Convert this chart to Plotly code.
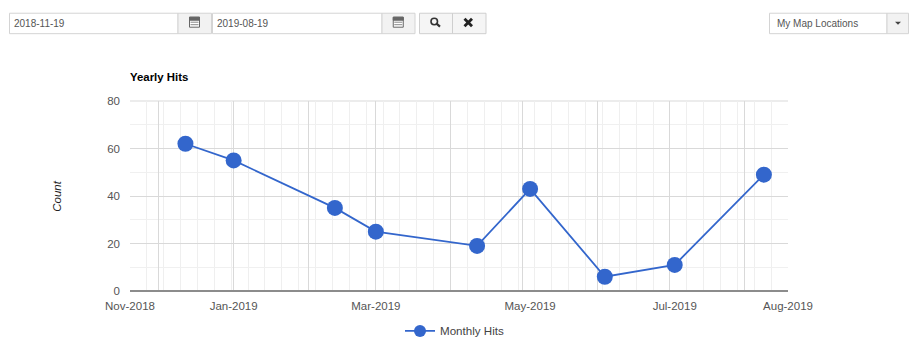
import plotly.graph_objects as go

# ---- data ----
hit_dates = ["2018-12-12", "2019-01-01", "2019-02-12", "2019-03-01", "2019-04-12",
             "2019-05-04", "2019-06-04", "2019-07-03", "2019-08-09"]
hit_counts = [62, 55, 35, 25, 19, 43, 6, 11, 49]
series_name = "Monthly Hits"
x_range = ["2018-11-19", "2019-08-19"]
month_starts = ["2018-12-01", "2019-01-01", "2019-02-01", "2019-03-01", "2019-04-01",
                "2019-05-01", "2019-06-01", "2019-07-01", "2019-08-01"]
label_dates = ["2018-11-19", "2019-01-01", "2019-03-01", "2019-05-04", "2019-07-03", "2019-08-19"]
label_texts = ["Nov-2018", "Jan-2019", "Mar-2019", "May-2019", "Jul-2019", "Aug-2019"]
y_ticks = [0, 20, 40, 60, 80]
title_text = "Yearly Hits"
y_title = "Count"
date_from = "2018-11-19"
date_to = "2019-08-19"
dropdown_text = "My Map Locations"

W, H = 920, 353
L, R, T, B = 130, 788, 101, 291.5
FONT = "Liberation Sans, Arial, sans-serif"
BLUE = "#3366CC"

def px(x): return (x - L) / (R - L)
def py(y): return (B - y) / (B - T)

shapes, notes = [], []

def box(x0, y0, x1, y1, fill="#ffffff", line="#d4d4d4", width=1):
    shapes.append(dict(type="rect", xref="paper", yref="paper", layer="above",
                       x0=px(x0), x1=px(x1), y0=py(y0), y1=py(y1), fillcolor=fill,
                       line=dict(color=line, width=width)))

def seg(x0, y0, x1, y1, color="#333333", width=2, layer="above"):
    shapes.append(dict(type="line", xref="paper", yref="paper", layer=layer,
                       x0=px(x0), x1=px(x1), y0=py(y0), y1=py(y1),
                       line=dict(color=color, width=width)))

def text(x, y, s, size=10, color="#555555", anchor="left", **kw):
    notes.append(dict(xref="paper", yref="paper", x=px(x), y=py(y), text=s, showarrow=False,
                      xanchor=anchor, yanchor="middle", font=dict(family=FONT, size=size, color=color),
                      borderpad=0, **kw))

def calendar(cx, cy):
    box(cx - 5, cy - 5, cx + 5, cy + 5, fill="#ffffff", line="#666666", width=1)
    box(cx - 5, cy - 5, cx + 5, cy - 2, fill="#666666", line="#666666", width=1)
    for dy in (0, 2.5):
        seg(cx - 4, cy + dy, cx + 4, cy + dy, color="#888888", width=1)

# date inputs
for x0, x1, x2, label in ((9, 178, 212, date_from), (212, 382, 415.5, date_to)):
    box(x0 + .5, 13, x1, 33.5)
    box(x1, 13, x2 - .5, 33.5, fill="#f2f2f2")
    text(x0 + 4, 23, label)
    calendar((x1 + x2) / 2 - .5, 22)

# buttons
box(419.5, 13, 452.5, 33.5, fill="#f5f5f5", line="#cfcfcf")
box(452.5, 13, 486, 33.5, fill="#f5f5f5", line="#cfcfcf")
shapes.append(dict(type="circle", xref="paper", yref="paper", layer="above",
                   x0=px(431), x1=px(437.5), y0=py(18), y1=py(24.5),
                   line=dict(color="#333333", width=1.6), fillcolor="rgba(0,0,0,0)"))
seg(436.5, 23.5, 440, 26.5, width=2.2)
seg(464.5, 18.5, 472, 26, color="#222222", width=2.8)
seg(472, 18.5, 464.5, 26, color="#222222", width=2.8)

# dropdown
box(769.5, 13, 887, 33.5)
box(887, 13, 908.5, 33.5, fill="#f2f2f2")
text(776, 23, dropdown_text)
shapes.append(dict(type="path", xref="paper", yref="paper", layer="above",
                   path=f"M {px(895)} {py(21.5)} L {px(901)} {py(21.5)} L {px(898)} {py(24.5)} Z",
                   fillcolor="#444444", line=dict(width=0)))

# top edge of the plot area (the 80 gridline)
seg(L, T, R, T, color="#d9d9d9", width=1, layer="below")

# chart title and axis title
text(L - 1, 76.5, f"<b>{title_text}</b>", size=11.4, color="#000000")
text(57, 197, f"<i>{y_title}</i>", size=11.5, color="#222222", anchor="center", textangle=-90)

fig = go.Figure()
fig.add_trace(go.Scatter(x=hit_dates, y=hit_counts, name=series_name, mode="lines+markers",
                         line=dict(color=BLUE, width=1.8),
                         marker=dict(color=BLUE, size=16, line=dict(width=0)),
                         xaxis="x", yaxis="y", cliponaxis=False, showlegend=False))
# legend-only entry with the smaller legend marker
fig.add_trace(go.Scatter(x=[None], y=[None], name=series_name, mode="lines+markers",
                         line=dict(color=BLUE, width=1.8),
                         marker=dict(color=BLUE, size=12, line=dict(width=0)),
                         xaxis="x", yaxis="y", showlegend=True))
# invisible trace that carries the label axis
fig.add_trace(go.Scatter(x=x_range, y=[0, 0], mode="markers", marker=dict(opacity=0),
                         xaxis="x2", yaxis="y", showlegend=False, hoverinfo="skip"))

fig.update_layout(
    width=W, height=H, autosize=False,
    margin=dict(l=L, r=W - R, t=T, b=H - B, pad=0, autoexpand=False),
    paper_bgcolor="#ffffff", plot_bgcolor="#ffffff",
    font=dict(family=FONT, size=11.5, color="#444444"),
    shapes=shapes, annotations=notes,
    showlegend=True,
    legend=dict(orientation="h", xref="paper", yref="paper",
                x=px(400), y=py(317), xanchor="left", yanchor="top",
                font=dict(family=FONT, size=11.6, color="#444444"),
                itemwidth=30, bgcolor="rgba(0,0,0,0)"),
    xaxis=dict(type="date", range=x_range, tickmode="array", tickvals=month_starts,
               showticklabels=False, ticks="", showgrid=True, gridcolor="#d9d9d9", gridwidth=1,
               zeroline=False, showline=False,
               minor=dict(showgrid=True, gridcolor="#efefef", gridwidth=1, ticks="",
                          tick0="2018-11-26", dtick=7 * 86400000)),
    xaxis2=dict(type="date", range=x_range, overlaying="x", side="bottom", anchor="y",
                tickmode="array", tickvals=label_dates, ticktext=label_texts,
                showgrid=False, ticks="", ticklen=0, zeroline=False, showline=False,
                ticklabelstandoff=6,
                tickangle=0, tickfont=dict(family=FONT, size=11.5, color="#555555")),
    yaxis=dict(range=[0, 80], tickvals=y_ticks, ticks="", showgrid=True, gridcolor="#d9d9d9",
               gridwidth=1, zeroline=True, zerolinecolor="#8c8c8c", zerolinewidth=2,
               showline=False, ticklabelstandoff=9, tickfont=dict(family=FONT, size=11.5, color="#555555"),
               minor=dict(showgrid=True, gridcolor="#f0f0f0", gridwidth=1, ticks="", dtick=10, tick0=0)),
)
fig.write_html("out.html", config=dict(displayModeBar=False),
               post_script="document.body.style.margin='0';")
